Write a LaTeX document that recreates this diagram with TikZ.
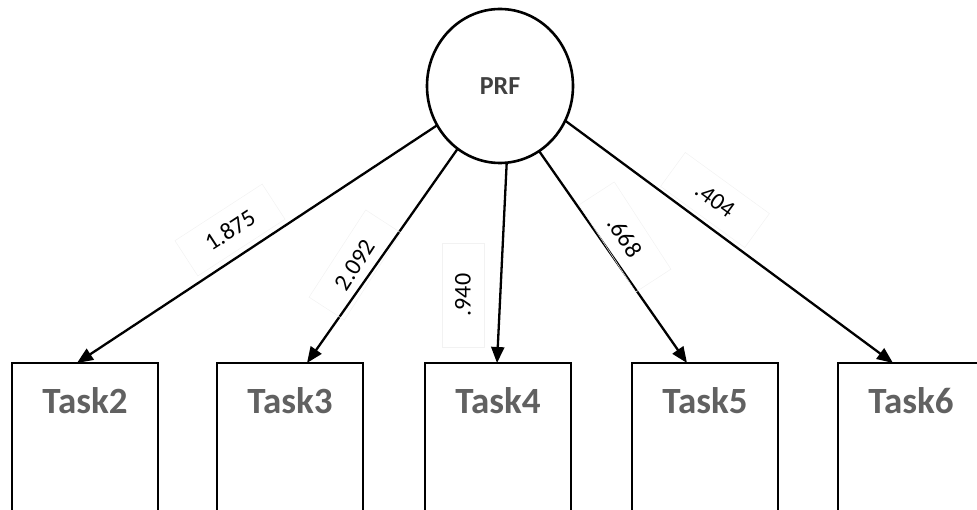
\documentclass[tikz,border=0pt]{standalone}
\usepackage{fontspec}
\setmainfont{Carlito}
\usetikzlibrary{shapes.geometric,arrows.meta}
\begin{document}
\begin{tikzpicture}[x=1pt,y=-1pt,
 taskbox/.style={draw=black,line width=2.6pt,minimum width=146pt,minimum height=160pt,inner sep=0pt,outer sep=0pt},
 tasklbl/.style={font=\fontsize{37}{42}\selectfont\bfseries,text=black!62},
 latent/.style={ellipse,draw=black,line width=2.6pt,minimum width=146pt,minimum height=154pt,inner sep=0pt,outer sep=0pt,font=\fontsize{26}{30}\selectfont\bfseries,text=black!75},
 arr/.style={line width=2.3pt,-{Triangle[length=16pt,width=13pt]}},
 coef/.style={font=\fontsize{24}{28}\selectfont,draw=black!5,line width=0.5pt,minimum width=104pt,minimum height=42pt,inner sep=0pt}]
\useasboundingbox (0,0) rectangle (977,510);
\clip (0,0) rectangle (977,510);
\node[latent] (prf) at (500,86) {PRF};
\node[taskbox] (t2) at (85,443) {};
\node[taskbox] (t3) at (290,443) {};
\node[taskbox] (t4) at (498,443) {};
\node[taskbox] (t5) at (705,443) {};
\node[taskbox] (t6) at (911,443) {};
\node[tasklbl] (l2) at ([yshift=-38pt]t2.north) {Task2};
\node[tasklbl] (l3) at ([yshift=-38pt]t3.north) {Task3};
\node[tasklbl] (l4) at ([yshift=-38pt]t4.north) {Task4};
\node[tasklbl] (l5) at ([yshift=-38pt]t5.north) {Task5};
\node[tasklbl] (l6) at ([yshift=-38pt]t6.north) {Task6};
\draw[arr] (prf.212) -- ([xshift=-8pt]t2.north);
\draw[arr] (prf.236) -- ([xshift=17pt]t3.north);
\draw[arr] (prf.275) -- ([xshift=-1pt]t4.north);
\draw[arr] (prf.301) -- ([xshift=-18pt]t5.north);
\draw[arr] (prf.332) -- ([xshift=-18pt]t6.north);
\node[coef,rotate=33] (c2) at (230,230) {1.875};
\node[coef,rotate=57] (c3) at (355,265) {2.092};
\node[coef,rotate=90] (c4) at (463,295) {.940};
\node[coef,rotate=-57] (c5) at (625,237) {.668};
\node[coef,rotate=-36] (c6) at (715,200) {.404};
\end{tikzpicture}
\end{document}
